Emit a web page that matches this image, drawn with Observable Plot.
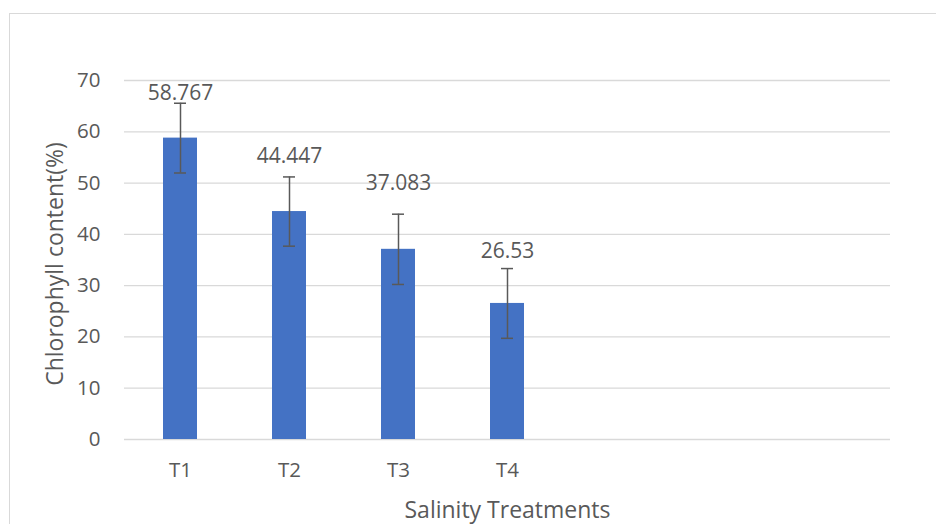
<!DOCTYPE html>
<html>
<head>
<meta charset="utf-8">
<script src="https://cdn.jsdelivr.net/npm/d3@7"></script>
<script src="https://cdn.jsdelivr.net/npm/@observablehq/plot@0.6"></script>
<style>
  html, body { margin: 0; padding: 0; background: #fff; }
  #wrap { position: relative; width: 936px; height: 524px; overflow: hidden; }
  #border { position: absolute; left: 9px; top: 13px; width: 1000px; height: 600px;
            border: 1.3px solid #d9d9d9; box-sizing: border-box; }
  #chart { position: absolute; left: 0; top: 0; }
</style>
</head>
<body>
<div id="wrap"><div id="border"></div><div id="chart"></div></div>
<script>
// ---- data ----
const categories = ["T1", "T2", "T3", "T4"];
const emptySlots = ["", " ", "  "];          // unused category slots on the x axis
const values = [58.767, 44.447, 37.083, 26.53];
const errors = [6.8, 6.75, 6.85, 6.8];
const valueLabels = ["58.767", "44.447", "37.083", "26.53"];
const yTicks = [0, 10, 20, 30, 40, 50, 60, 70];
const yTitle = "Chlorophyll content(%)";
const xTitle = "Salinity Treatments";

// ---- layout (not data) ----
const labelOffsets = [-10, -21, -31, -17.5];

const rows = categories.map((c, i) => ({
  cat: c, value: values[i], lo: values[i] - errors[i], hi: values[i] + errors[i],
  label: valueLabels[i], off: labelOffsets[i]
}));

const textColor = "#595959";
const font = "'Open Sans', 'Liberation Sans', sans-serif";

const plot = Plot.plot({
  width: 936,
  height: 524,
  marginLeft: 124,
  marginRight: 46,
  marginTop: 80,
  marginBottom: 85,
  style: { fontFamily: font, background: "transparent", overflow: "visible" },
  x: { type: "band", domain: [...categories, ...emptySlots], paddingInner: 0.69, paddingOuter: 0.345 },
  y: { domain: [0, 70] },
  marks: [
    Plot.ruleY(yTicks, { stroke: "#d9d9d9", strokeWidth: 1.3 }),
    Plot.barY(rows, { x: "cat", y: "value", fill: "#4472c4" }),
    Plot.ruleX(rows, { x: "cat", y1: "lo", y2: "hi", stroke: "#595959", strokeWidth: 1.5 }),
    Plot.tickY(rows, { x: "cat", y: "lo", stroke: "#595959", strokeWidth: 1.5, insetLeft: 11, insetRight: 11 }),
    Plot.tickY(rows, { x: "cat", y: "hi", stroke: "#595959", strokeWidth: 1.5, insetLeft: 11, insetRight: 11 }),
    ...rows.map(r => Plot.text([r], { x: "cat", y: "hi", text: "label", dy: r.off,
      lineAnchor: "middle", fill: textColor, fontSize: 21 })),
    Plot.axisY({ ticks: yTicks, tickSize: 0, tickPadding: 24, fontSize: 20.5, color: textColor, label: null }),
    Plot.axisX({ ticks: categories, tickSize: 0, tickPadding: 23, fontSize: 20.5, color: textColor, label: null }),
    Plot.text([yTitle], { frameAnchor: "left", textAnchor: "middle", text: d => d, rotate: -90, dx: -62, dy: 4,
      lineAnchor: "bottom", fill: textColor, fontSize: 23 }),
    Plot.text([xTitle], { frameAnchor: "bottom", textAnchor: "middle", text: d => d, dy: 78,
      lineAnchor: "bottom", fill: textColor, fontSize: 23 })
  ]
});
document.getElementById("chart").appendChild(plot);
</script>
</body>
</html>
